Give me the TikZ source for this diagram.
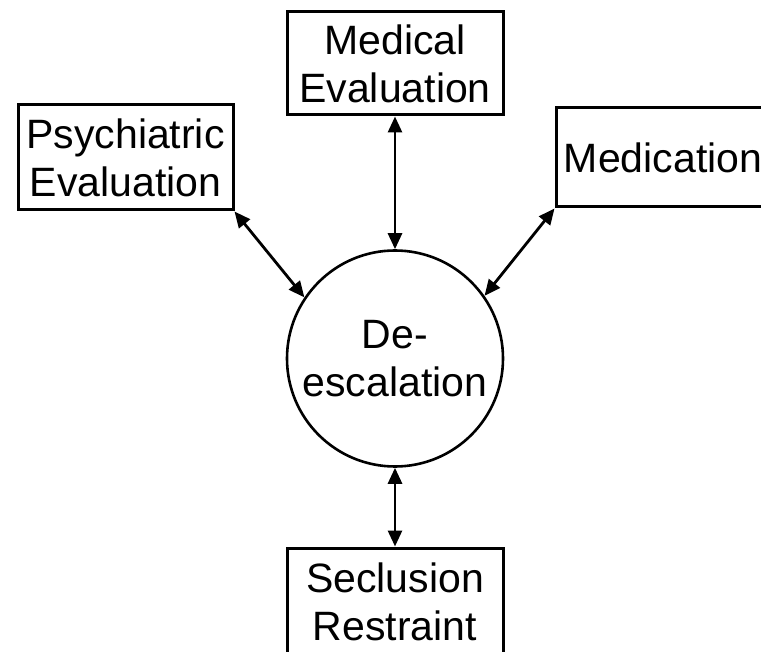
\documentclass[tikz,border=0pt]{standalone}
\usepackage{fontspec}
\setmainfont{Liberation Sans}
\usetikzlibrary{arrows.meta}
\begin{document}
\begin{tikzpicture}[x=1pt, y=-1pt,
     every node/.style={font=\fontsize{41}{48}\selectfont},
     box/.style={draw, line width=3pt, minimum width=216pt, minimum height=103pt, align=center, inner sep=0pt},
     hub/.style={draw, circle, line width=2.6pt, minimum size=216pt, align=center, inner sep=0pt},
     link/.style={{Triangle[length=16pt,width=14pt]}-{Triangle[length=16pt,width=14pt]}, line width=2.8pt}]
     \clip (0,0) rectangle (761,652);
     \node[box] (med) at (395,63.5) {Medical\\Evaluation};
     \node[box, minimum width=215pt, minimum height=105pt] (psy) at (125.5,157.5) {Psychiatric\\Evaluation};
     \node[box, minimum width=214pt, minimum height=99pt] (drug) at (663,157.5) {Medication};
     \node[hub] (calm) at (395,358.5) {De-\\escalation};
     \node[box, minimum height=108pt] (hold) at (395,602) {Seclusion\\Restraint};

     \draw[link] (med.south) -- (calm.north);
     \draw[link] (psy.south east) -- (calm.146);
     \draw[link] (drug.south west) -- (calm.35);
     \draw[link] (calm.south) -- (hold.north);
   \end{tikzpicture}
\end{document}
